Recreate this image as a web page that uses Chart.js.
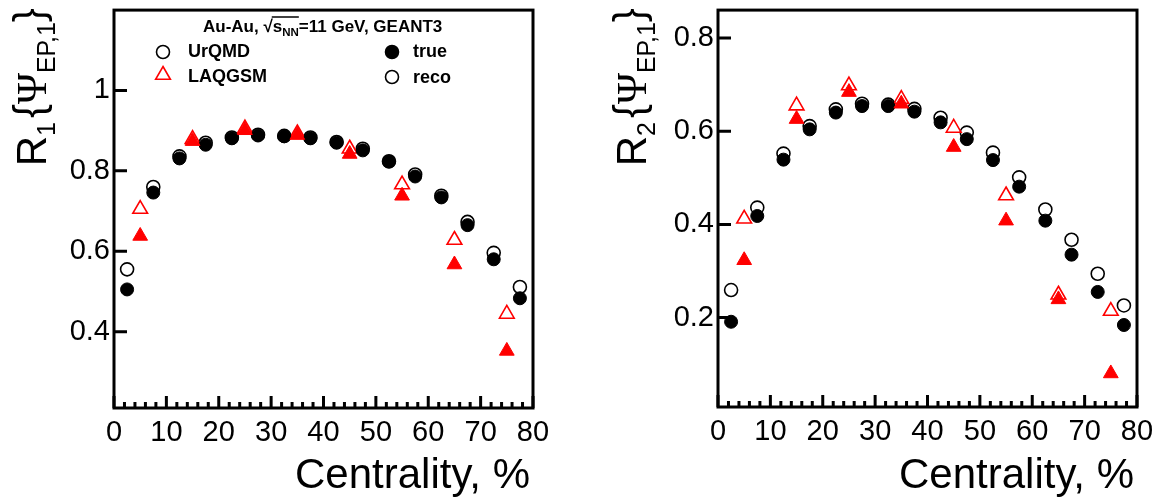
<!DOCTYPE html>
<html lang="en">
<head>
    <meta charset="UTF-8">
    <title>Event plane resolution vs centrality</title>
    <script src="https://cdn.jsdelivr.net/npm/chart.js"></script>
    <style>
        body, html {
            margin: 0;
            padding: 0;
            background: #fff;
        }
        .panel {
            position: absolute;
            top: 0;
            width: 580px;
            height: 497px;
        }
        #left { left: 0; }
        #right { left: 580px; }
    </style>
</head>
<body>

<div class="panel" id="left"><canvas id="chartR1" width="580" height="497"></canvas></div>
<div class="panel" id="right"><canvas id="chartR2" width="580" height="497"></canvas></div>

<script>
// centrality bin centres, %
const centUrqmd = [2.5, 7.5, 12.5, 17.5, 22.5, 27.5, 32.5, 37.5, 42.5, 47.5, 52.5, 57.5, 62.5, 67.5, 72.5, 77.5];
const centLaqgsm = [5, 15, 25, 35, 45, 55, 65, 75];

// tick labels
const xTicks = [0, 10, 20, 30, 40, 50, 60, 70, 80];
const r1Ticks = [0.4, 0.6, 0.8, 1];
const r2Ticks = [0.2, 0.4, 0.6, 0.8];

// R1{Psi_EP,1}
const r1UrqmdTrue = [0.505, 0.746, 0.831, 0.865, 0.881, 0.888, 0.886, 0.881, 0.870, 0.851, 0.823, 0.786, 0.734, 0.665, 0.580, 0.483];
const r1UrqmdReco = [0.555, 0.760, 0.836, 0.870, 0.883, 0.890, 0.887, 0.883, 0.872, 0.855, 0.824, 0.791, 0.738, 0.673, 0.596, 0.511];
const r1LaqgsmTrue = [0.638, 0.874, 0.901, 0.889, 0.842, 0.738, 0.567, 0.352];
const r1LaqgsmReco = [0.705, 0.879, 0.905, 0.893, 0.855, 0.766, 0.628, 0.444];

// R2{Psi_EP,1}
const r2UrqmdTrue = [0.191, 0.418, 0.539, 0.604, 0.640, 0.654, 0.654, 0.642, 0.619, 0.583, 0.538, 0.481, 0.408, 0.335, 0.255, 0.184];
const r2UrqmdReco = [0.259, 0.436, 0.552, 0.611, 0.647, 0.659, 0.657, 0.648, 0.629, 0.597, 0.554, 0.501, 0.432, 0.367, 0.294, 0.226];
const r2LaqgsmTrue = [0.323, 0.626, 0.684, 0.659, 0.566, 0.408, 0.239, 0.080];
const r2LaqgsmReco = [0.412, 0.655, 0.698, 0.669, 0.607, 0.462, 0.249, 0.214];

const SANS = '"Liberation Sans", Arial, sans-serif';
const SERIF = '"Liberation Serif", "Times New Roman", serif';
const RED = '#ff0000';

function toPoints(xs, ys) {
    return xs.map((x, i) => ({ x: x, y: ys[i] }));
}

// draws a list of text pieces one after another, returns the total width
function drawRich(ctx, segs, x, y, measureOnly) {
    let cx = x;
    segs.forEach(s => {
        ctx.font = s.font;
        if (!measureOnly) ctx.fillText(s.t, cx, y + (s.dy || 0));
        cx += ctx.measureText(s.t).width + (s.gap || 0);
    });
    return cx - x;
}

function yTitleSegs(n) {
    return [
        { t: 'R', font: '42px ' + SANS },
        { t: n, font: '25px ' + SANS, dy: 9, gap: 4 },
        { t: '{', font: '42px ' + SANS, dy: -3 },
        { t: 'Ψ', font: '42px ' + SERIF },
        { t: 'EP,1', font: '25px ' + SANS, dy: 9 },
        { t: '}', font: '42px ' + SANS, dy: -3 }
    ];
}

// keep the plot frame exactly where we put it (no room for label overhang)
function noPad(s) {
    s.paddingTop = 0;
    s.paddingBottom = 0;
    s.paddingLeft = 0;
    s.paddingRight = 0;
}

// frame, inward ticks and axis titles, ROOT style
const rootFrame = {
    id: 'rootFrame',
    afterDraw(chart, args, opts) {
        const ctx = chart.ctx;
        const a = chart.chartArea;
        const xs = chart.scales.x;
        const ys = chart.scales.y;
        ctx.save();
        ctx.strokeStyle = '#000';
        ctx.lineWidth = 3;
        ctx.strokeRect(a.left, a.top, a.right - a.left, a.bottom - a.top);

        ctx.beginPath();
        ys.ticks.forEach(t => {
            const py = ys.getPixelForValue(t.value);
            ctx.moveTo(a.left, py);
            ctx.lineTo(a.left + 13, py);
        });
        for (let v = xs.min; v <= xs.max; v += 2) {
            const px = xs.getPixelForValue(v);
            const len = (v % 10 === 0) ? 12 : 6;
            ctx.moveTo(px, a.bottom);
            ctx.lineTo(px, a.bottom - len);
        }
        ctx.stroke();

        // x title
        ctx.fillStyle = '#000';
        ctx.font = '42px ' + SANS;
        ctx.textAlign = 'right';
        ctx.textBaseline = 'alphabetic';
        ctx.fillText('Centrality, %', a.right - 3, 488);

        // y title, rotated
        ctx.textAlign = 'left';
        const segs = yTitleSegs(opts.index);
        const w = drawRich(ctx, segs, 0, 0, true);
        ctx.translate(opts.titleX, a.top + w - 2);
        ctx.rotate(-Math.PI / 2);
        drawRich(ctx, segs, 0, 0, false);
        ctx.restore();
    }
};

// legend block of the left panel
const legendBlock = {
    id: 'legendBlock',
    afterDraw(chart) {
        const ctx = chart.ctx;
        const drawPoint = Chart.helpers.drawPoint;
        ctx.save();
        ctx.fillStyle = '#000';
        ctx.textBaseline = 'alphabetic';

        // header with sqrt(s_NN)
        const fHead = 'bold 17px ' + SANS;
        let x = 203;
        x += drawRich(ctx, [{ t: 'Au-Au, ', font: fHead }, { t: '√', font: fHead }], x, 32, false);
        const barStart = x - 1;
        x += drawRich(ctx, [{ t: 's', font: fHead }, { t: 'NN', font: 'bold 11.5px ' + SANS, dy: 4 }], x, 32, false);
        ctx.strokeStyle = '#000';
        ctx.lineWidth = 1.5;
        ctx.beginPath();
        ctx.moveTo(barStart, 17);
        ctx.lineTo(x, 17);
        ctx.stroke();
        drawRich(ctx, [{ t: '=11 GeV, GEANT3', font: fHead }], x, 32, false);

        ctx.font = 'bold 18px ' + SANS;
        ctx.fillText('UrQMD', 188, 57);
        ctx.fillText('LAQGSM', 188, 82);
        ctx.fillText('true', 413, 57);
        ctx.fillText('reco', 413, 83);

        const open = { pointStyle: 'circle', radius: 6.5, rotation: 0, borderWidth: 1.6 };
        ctx.fillStyle = 'rgba(0,0,0,0)';
        ctx.strokeStyle = '#000';
        ctx.lineWidth = 1.6;
        drawPoint(ctx, open, 163, 52);
        drawPoint(ctx, open, 392, 77);
        ctx.fillStyle = '#000';
        drawPoint(ctx, open, 392, 52);
        ctx.fillStyle = 'rgba(0,0,0,0)';
        ctx.strokeStyle = RED;
        drawPoint(ctx, { pointStyle: 'triangle', radius: 8.5, rotation: 0, borderWidth: 1.6 }, 163, 75);
        ctx.restore();
    }
};

function makeChart(canvasId, sets, yMin, yMax, yTickList, index, geom, extraPlugins) {
    const ctx = document.getElementById(canvasId).getContext('2d');
    const tickFont = { family: SANS, size: 29 };
    return new Chart(ctx, {
        type: 'scatter',
        data: {
            datasets: [
                {
                    label: 'LAQGSM true',
                    data: toPoints(centLaqgsm, sets.laqTrue),
                    pointStyle: 'triangle',
                    pointRadius: 8.5,
                    backgroundColor: RED,
                    borderColor: RED,
                    borderWidth: 1
                },
                {
                    label: 'UrQMD true',
                    data: toPoints(centUrqmd, sets.urTrue),
                    pointStyle: 'circle',
                    pointRadius: 6.5,
                    backgroundColor: '#000',
                    borderColor: '#000',
                    borderWidth: 1
                },
                {
                    label: 'LAQGSM reco',
                    data: toPoints(centLaqgsm, sets.laqReco),
                    pointStyle: 'triangle',
                    pointRadius: 8.5,
                    backgroundColor: 'rgba(0,0,0,0)',
                    borderColor: RED,
                    borderWidth: 1.6
                },
                {
                    label: 'UrQMD reco',
                    data: toPoints(centUrqmd, sets.urReco),
                    pointStyle: 'circle',
                    pointRadius: 6.5,
                    backgroundColor: 'rgba(0,0,0,0)',
                    borderColor: '#000',
                    borderWidth: 1.6
                }
            ]
        },
        options: {
            responsive: false,
            animation: false,
            events: [],
            layout: { padding: { top: geom.top, right: geom.right, left: 0, bottom: 0 } },
            plugins: {
                legend: { display: false },
                tooltip: { enabled: false },
                rootFrame: { index: index, titleX: geom.titleX }
            },
            scales: {
                x: {
                    type: 'linear',
                    min: 0,
                    max: 80,
                    afterBuildTicks: s => { s.ticks = xTicks.map(v => ({ value: v })); },
                    afterFit: s => { s.height = geom.xAxisH; noPad(s); },
                    grid: { display: false, drawTicks: false },
                    border: { display: false },
                    ticks: { font: tickFont, color: '#000', padding: 8, maxRotation: 0, autoSkip: false }
                },
                y: {
                    type: 'linear',
                    min: yMin,
                    max: yMax,
                    afterBuildTicks: s => { s.ticks = yTickList.map(v => ({ value: v })); },
                    afterFit: s => { s.width = geom.yAxisW; noPad(s); },
                    grid: { display: false, drawTicks: false },
                    border: { display: false },
                    ticks: { font: tickFont, color: '#000', padding: 4, autoSkip: false, callback: v => String(v) }
                }
            }
        },
        plugins: [rootFrame].concat(extraPlugins)
    });
}

makeChart('chartR1',
    { urTrue: r1UrqmdTrue, urReco: r1UrqmdReco, laqTrue: r1LaqgsmTrue, laqReco: r1LaqgsmReco },
    0.21, 1.2, r1Ticks, '1',
    { top: 3, right: 47, yAxisW: 114, xAxisH: 89, titleX: 46 },
    [legendBlock]);

makeChart('chartR2',
    { urTrue: r2UrqmdTrue, urReco: r2UrqmdReco, laqTrue: r2LaqgsmTrue, laqReco: r2LaqgsmReco },
    0.008, 0.86, r2Ticks, '2',
    { top: 4, right: 23, yAxisW: 138, xAxisH: 90, titleX: 66 },
    []);
</script>

</body>
</html>
